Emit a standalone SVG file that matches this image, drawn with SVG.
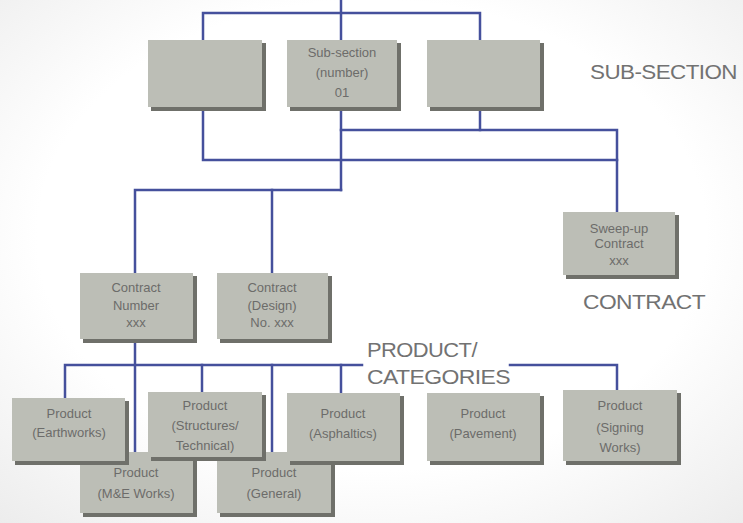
<svg xmlns="http://www.w3.org/2000/svg" width="743" height="523" viewBox="0 0 743 523">
  <defs>
    <radialGradient id="bg" cx="0.5" cy="0.45" r="0.75">
      <stop offset="0.6" stop-color="#ffffff"/>
      <stop offset="1" stop-color="#ececec"/>
    </radialGradient>
    <style>
      .link { fill: none; stroke: #45509c; stroke-width: 2.5; stroke-linecap: square; }
      .shadow { fill: #6f706a; }
      .box { fill: #bcbeb6; }
      .t { font-family: "Liberation Sans", Arial, sans-serif; font-size: 13px; fill: #6c6c6a; text-anchor: middle; }
      .lbl { font-family: "Liberation Sans", Arial, sans-serif; font-size: 20px; fill: #727272; letter-spacing: -0.5px; }
    </style>
  </defs>

  <rect width="743" height="523" fill="url(#bg)"/>

  <!-- connectors -->
  <g id="connectors">
    <path class="link" d="M341,0 V40"/>
    <path class="link" d="M203,40 V13 H480 V40"/>
    <path class="link" d="M203,108 V160 H617"/>
    <path class="link" d="M341,108 V190"/>
    <path class="link" d="M480,108 V130"/>
    <path class="link" d="M341,130 H617 V212"/>
    <path class="link" d="M135,273 V190 H341"/>
    <path class="link" d="M272,190 V273"/>
    <path class="link" d="M135,340 V452"/>
    <path class="link" d="M65,398 V365 H362"/>
    <path class="link" d="M510,365 H617 V390"/>
    <path class="link" d="M202,365 V392"/>
    <path class="link" d="M272,365 V452"/>
    <path class="link" d="M341,365 V393"/>
  </g>

  <!-- sub-section level -->
  <g id="sub-left">
    <rect class="shadow" x="151" y="43" width="115" height="68"/>
    <rect class="box" x="148" y="40" width="114" height="67"/>
  </g>
  <g id="sub-01">
    <rect class="shadow" x="290" y="43" width="111" height="68"/>
    <rect class="box" x="287" y="40" width="110" height="67"/>
    <text class="t" x="342" y="57">Sub-section</text>
    <text class="t" x="342" y="77">(number)</text>
    <text class="t" x="342" y="97">01</text>
  </g>
  <g id="sub-right">
    <rect class="shadow" x="430" y="43" width="114" height="68"/>
    <rect class="box" x="427" y="40" width="113" height="67"/>
  </g>
  <text class="lbl" x="590" y="79" textLength="147" lengthAdjust="spacingAndGlyphs">SUB-SECTION</text>

  <!-- contract level -->
  <g id="sweep-up">
    <rect class="shadow" x="566" y="215" width="113" height="64"/>
    <rect class="box" x="563" y="212" width="112" height="63"/>
    <text class="t" x="619" y="233">Sweep-up</text>
    <text class="t" x="619" y="248">Contract</text>
    <text class="t" x="619" y="265">xxx</text>
  </g>
  <text class="lbl" x="583" y="309" textLength="122" lengthAdjust="spacingAndGlyphs">CONTRACT</text>

  <g id="contract-number">
    <rect class="shadow" x="83" y="276" width="114" height="67"/>
    <rect class="box" x="80" y="273" width="113" height="66"/>
    <text class="t" x="136" y="292">Contract</text>
    <text class="t" x="136" y="310">Number</text>
    <text class="t" x="136" y="327">xxx</text>
  </g>
  <g id="contract-design">
    <rect class="shadow" x="220" y="276" width="112" height="67"/>
    <rect class="box" x="217" y="273" width="111" height="66"/>
    <text class="t" x="272" y="292">Contract</text>
    <text class="t" x="272" y="310">(Design)</text>
    <text class="t" x="272" y="327">No. xxx</text>
  </g>

  <!-- product categories -->
  <text class="lbl" x="367" y="357" textLength="110" lengthAdjust="spacingAndGlyphs">PRODUCT/</text>
  <text class="lbl" x="367" y="384" textLength="143" lengthAdjust="spacingAndGlyphs">CATEGORIES</text>

  <g id="product-me-works">
    <rect class="shadow" x="83" y="455" width="114" height="62"/>
    <rect class="box" x="80" y="452" width="113" height="61"/>
    <text class="t" x="136" y="477">Product</text>
    <text class="t" x="136" y="498">(M&amp;E Works)</text>
  </g>
  <g id="product-general">
    <rect class="shadow" x="220" y="455" width="115" height="62"/>
    <rect class="box" x="217" y="452" width="114" height="61"/>
    <text class="t" x="274" y="477">Product</text>
    <text class="t" x="274" y="498">(General)</text>
  </g>
  <g id="product-earthworks">
    <rect class="shadow" x="15" y="401" width="114" height="64"/>
    <rect class="box" x="12" y="398" width="113" height="63"/>
    <text class="t" x="69" y="418">Product</text>
    <text class="t" x="69" y="437">(Earthworks)</text>
  </g>
  <g id="product-structures">
    <rect class="shadow" x="151" y="395" width="115" height="66"/>
    <rect class="box" x="148" y="392" width="114" height="65"/>
    <text class="t" x="205" y="410">Product</text>
    <text class="t" x="205" y="430">(Structures/</text>
    <text class="t" x="205" y="450">Technical)</text>
  </g>
  <g id="product-asphaltics">
    <rect class="shadow" x="290" y="396" width="114" height="69"/>
    <rect class="box" x="287" y="393" width="113" height="68"/>
    <text class="t" x="343" y="418">Product</text>
    <text class="t" x="343" y="438">(Asphaltics)</text>
  </g>
  <g id="product-pavement">
    <rect class="shadow" x="430" y="396" width="114" height="69"/>
    <rect class="box" x="427" y="393" width="113" height="68"/>
    <text class="t" x="483" y="418">Product</text>
    <text class="t" x="483" y="438">(Pavement)</text>
  </g>
  <g id="product-signing-works">
    <rect class="shadow" x="566" y="393" width="115" height="72"/>
    <rect class="box" x="563" y="390" width="114" height="71"/>
    <text class="t" x="620" y="410">Product</text>
    <text class="t" x="620" y="432">(Signing</text>
    <text class="t" x="620" y="452">Works)</text>
  </g>
</svg>
